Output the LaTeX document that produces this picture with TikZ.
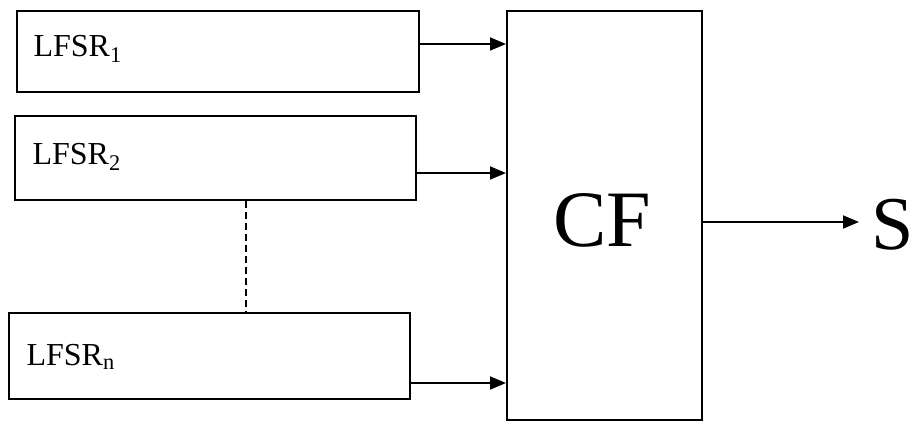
\documentclass[tikz,border=0pt]{standalone}
\usepackage{fontspec}
\setmainfont{Liberation Serif}
\usetikzlibrary{arrows.meta}
\begin{document}
\begin{tikzpicture}[x=1pt,y=-1pt,
  box/.style={draw,line width=2pt,rectangle,inner sep=0pt},
  lab/.style={font=\fontsize{32}{34}\selectfont,anchor=west},
  conn/.style={line width=1.8pt,-{Triangle[length=16pt,width=13pt]}}]
\useasboundingbox (0,0) rectangle (916,427);
\node[box,minimum width=402pt,minimum height=81pt] (l1) at (218,51.5) {};
\node[box,minimum width=401pt,minimum height=84pt] (l2) at (215.5,158) {};
\node[box,minimum width=401pt,minimum height=86pt] (ln) at (209.5,356) {};
\node[box,minimum width=195pt,minimum height=409pt] (cf) at (604.5,215.5) {};
\node[lab] (t1) at (30,49) {LFSR\textsubscript{1}};
\node[lab] (t2) at (29,157) {LFSR\textsubscript{2}};
\node[lab] (tn) at (23,357) {LFSR\textsubscript{n}};
\node[font=\fontsize{80}{80}\selectfont] (cft) at (602,220) {CF};
\node[font=\fontsize{76}{80}\selectfont,anchor=west,inner ysep=0pt,inner xsep=0pt] (s) at (871,225) {S};
\coordinate (sin) at (859,222);
\draw[conn] (l1.east |- 0,44) -- (cf.west |- 0,44);
\draw[conn] (l2.east |- 0,173) -- (cf.west |- 0,173);
\draw[conn] (ln.east |- 0,383) -- (cf.west |- 0,383);
\draw[conn] (cf.east |- sin) -- (sin);
\draw[line width=1.6pt,dashed,dash pattern=on 7pt off 4pt] (l2.south -| 246,0) -- (ln.north -| 246,0);
\end{tikzpicture}
\end{document}
